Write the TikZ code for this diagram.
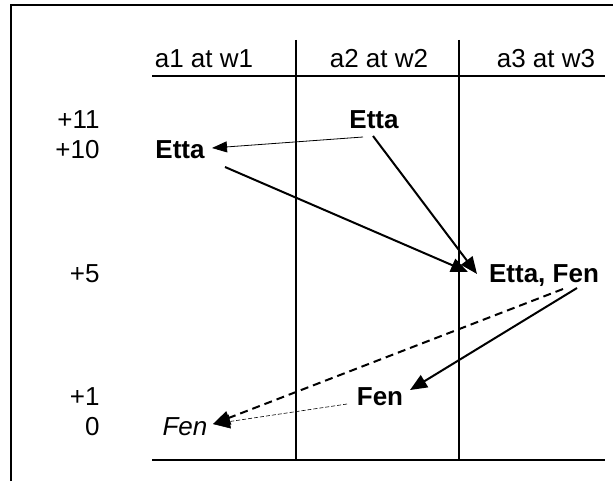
\documentclass[tikz,border=0pt]{standalone}
\usepackage{fontspec}
\setmainfont{Liberation Sans}
\usetikzlibrary{arrows.meta}
\begin{document}
\begin{tikzpicture}[x=0.5pt,y=-0.5pt,
  grid/.style={line width=0.75pt},
  lbl/.style={font=\fontsize{13}{15}\selectfont, inner sep=0pt, anchor=base},
  rowlbl/.style={lbl, anchor=base east},
  ent/.style={lbl, font=\fontsize{13}{15}\selectfont\bfseries},
  ital/.style={lbl, font=\fontsize{13}{15}\selectfont\itshape},
  thinarr/.style={line width=0.4pt, -{Triangle[length=7.5pt,width=5.5pt]}},
  arr/.style={line width=1pt, -{Triangle[length=8.5pt,width=7pt]}},
  dasharr/.style={line width=1pt, dash pattern=on 4pt off 2.5pt, -{Triangle[length=8.5pt,width=7pt]}},
  thindash/.style={line width=0.3pt, dash pattern=on 2pt off 1pt, -{Triangle[length=8.5pt,width=7pt]}}
]
\useasboundingbox (0,0) rectangle (613,481);
% frame
\draw[grid] (11,481) -- (11,5) -- (613,5);
% table lines
\draw[grid] (152,76) -- (605,76);
\draw[grid] (152,460) -- (605,460);
\draw[grid] (296,40) -- (296,460);
\draw[grid] (459,40) -- (459,460);
% headers
\node[lbl] (h1) at (204,68) {a1 at w1};
\node[lbl] (h2) at (379,68) {a2 at w2};
\node[lbl] (h3) at (546,68) {a3 at w3};
% row labels
\node[rowlbl] (r11) at (100,128) {+11};
\node[rowlbl] (r10) at (100,158) {+10};
\node[rowlbl] (r5) at (100,282) {+5};
\node[rowlbl] (r1) at (100,405) {+1};
\node[rowlbl] (r0) at (100,435) {0};
% entries
\node[ent] (e2) at (374,128) {Etta};
\node[ent] (e1) at (180,158) {Etta};
\node[ent] (ef) at (544,282) {Etta, Fen};
\node[ent] (f2) at (380,405) {Fen};
\node[ital] (f0) at (185,435) {Fen};
% arrows
\draw[thinarr] ([shift={(-11,9)}]e2.base) -- ([shift={(32,-10)}]e1.base);
\draw[arr] ([shift={(45,9)}]e1.base) -- ([shift={(-76,-10)}]ef.base);
\draw[arr] ([shift={(-1,8)}]e2.base) -- ([shift={(-67,-8)}]ef.base);
\draw[arr] ([shift={(33,6)}]ef.base) -- ([shift={(30,-15)}]f2.base);
\draw[dasharr] ([shift={(19,7)}]ef.base) -- ([shift={(28,-11)}]f0.base);
\draw[thindash] ([shift={(-33,-1)}]f2.base) -- ([shift={(28,-11)}]f0.base);
\end{tikzpicture}
\end{document}
